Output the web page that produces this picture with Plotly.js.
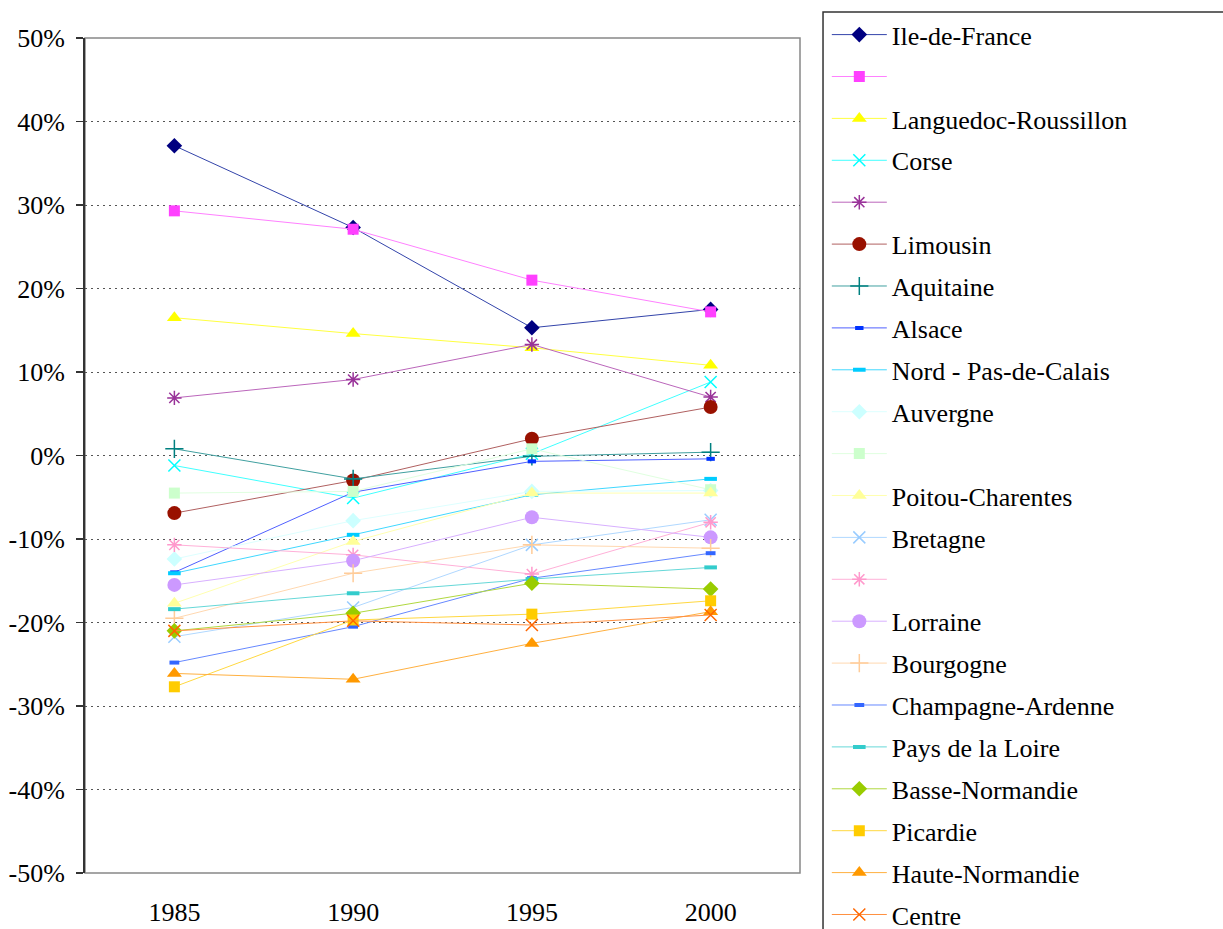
<!DOCTYPE html>
<html>
<head>
<meta charset="utf-8">
<script src="https://cdn.plot.ly/plotly-3.0.1.min.js"></script>
<style>
  html, body { margin: 0; padding: 0; background: #fff; }
  #chart { width: 1223px; height: 929px; }
</style>
</head>
<body>
<div id="chart"></div>
<script>
// years on the category axis
const years = ["1985", "1990", "1995", "2000"];

// series names, in legend order (some are blank in the original)
const regions = [
  "Ile-de-France", "", "Languedoc-Roussillon", "Corse", "", "Limousin",
  "Aquitaine", "Alsace", "Nord - Pas-de-Calais", "Auvergne", "",
  "Poitou-Charentes", "Bretagne", "", "Lorraine", "Bourgogne",
  "Champagne-Ardenne", "Pays de la Loire", "Basse-Normandie", "Picardie",
  "Haute-Normandie", "Centre"
];

// values in %, one array per series
const ileDeFrance    = [37.1, 27.3, 15.3, 17.5];
const serie2         = [29.3, 27.1, 21.0, 17.2];
const languedoc      = [16.5, 14.6, 12.9, 10.8];
const corse          = [-1.2, -5.1, 0.2, 8.8];
const serie5         = [6.9, 9.1, 13.3, 7.0];
const limousin       = [-6.9, -3.0, 2.0, 5.8];
const aquitaine      = [0.8, -2.8, -0.1, 0.4];
const alsace         = [-14.0, -4.4, -0.7, -0.4];
const nordPdc        = [-14.1, -9.5, -4.7, -2.8];
const auvergne       = [-12.4, -7.8, -4.3, -4.2];
const serie11        = [-4.5, -4.3, 0.8, -4.1];
const poitou         = [-17.7, -10.3, -4.5, -4.5];
const bretagne       = [-21.7, -18.2, -10.7, -7.7];
const serie14        = [-10.7, -11.9, -14.2, -8.0];
const lorraine       = [-15.5, -12.6, -7.4, -9.8];
const bourgogne      = [-19.5, -14.1, -10.7, -11.1];
const champagne      = [-24.8, -20.5, -14.7, -11.7];
const paysLoire      = [-18.4, -16.5, -14.8, -13.4];
const basseNormandie = [-21.0, -18.9, -15.3, -16.0];
const picardie       = [-27.7, -19.7, -19.0, -17.4];
const hauteNormandie = [-26.1, -26.8, -22.5, -18.7];
const centre         = [-21.0, -19.8, -20.3, -19.1];

// y tick labels
const yTickVals = [-50, -40, -30, -20, -10, 0, 10, 20, 30, 40, 50];
const yTickText = ["-50%", "-40%", "-30%", "-20%", "-10%", "0%", "10%", "20%", "30%", "40%", "50%"];

const values = [ileDeFrance, serie2, languedoc, corse, serie5, limousin, aquitaine,
  alsace, nordPdc, auvergne, serie11, poitou, bretagne, serie14, lorraine, bourgogne,
  champagne, paysLoire, basseNormandie, picardie, hauteNormandie, centre];

// excel-ish styles
const markerColors = ["#000080", "#ff40ff", "#ffff00", "#00ffff", "#993399", "#991100",
  "#008080", "#0033ff", "#00ccff", "#ccffff", "#ccffcc", "#ffff99", "#99ccff", "#ff99cc",
  "#cc99ff", "#ffcc99", "#3366ff", "#33cccc", "#99cc00", "#ffcc00", "#ff9900", "#ff6600"];
const lineColors = ["#3344aa", "#ff80ff", "#ffff40", "#40ffff", "#bb66bb", "#b06060",
  "#40a0a0", "#5060ff", "#40d8ff", "#ddffff", "#e0ffe0", "#ffffb0", "#b0d8ff", "#ffb0d8",
  "#d8b0ff", "#ffd8b0", "#6688ff", "#66d8d8", "#b0d840", "#ffd840", "#ffb040", "#ff9040"];
const symbols = ["diamond", "square", "triangle-up", "x-thin-open", "asterisk-open", "circle",
  "cross-thin-open", "line-ew-open", "line-ew-open", "diamond", "square", "triangle-up",
  "x-thin-open", "asterisk-open", "circle", "cross-thin-open", "line-ew-open", "line-ew-open",
  "diamond", "square", "triangle-up", "x-thin-open"];
const sizes = [12, 11, 13, 12, 12, 14, 13, 6, 9, 12, 11, 13, 12, 12, 14, 13, 7, 9, 12, 11, 13, 12];

const font = "Liberation Serif, Times New Roman, serif";

const traces = values.map(function(v, i){
  const sym = symbols[i];
  const open = sym.indexOf("open") >= 0;
  let lw = 0;
  if (open) lw = sym.indexOf("line-ew") === 0 ? 4 : 1.5;
  return {
    x: years,
    y: v,
    name: regions[i],
    legendgroup: "g" + i,
    type: "scatter",
    mode: "lines+markers",
    line: {color: lineColors[i], width: 1},
    marker: {
      symbol: sym,
      size: sizes[i],
      color: markerColors[i],
      line: {color: markerColors[i], width: lw}
    },
    hoverinfo: "skip"
  };
});

Plotly.newPlot("chart", traces, {
  width: 1223,
  height: 929,
  margin: {l: 85, r: 423, t: 38, b: 56, autoexpand: false},
  paper_bgcolor: "#fff",
  plot_bgcolor: "#fff",
  font: {family: font, size: 26, color: "#000"},
  showlegend: true,
  xaxis: {
    type: "category",
    range: [-0.5, 3.5],
    showline: false,
    showgrid: false,
    zeroline: false,
    ticks: "",
    ticklabelstandoff: 21,
    tickfont: {family: font, size: 26, color: "#000"}
  },
  xaxis2: {
    overlaying: "x",
    anchor: "free",
    position: 0.5,
    range: [-0.5, 3.5],
    tickvals: [-0.5, 0.5, 1.5, 2.5, 3.5],
    ticks: "outside",
    ticklen: 8,
    tickwidth: 1,
    tickcolor: "#000",
    showticklabels: false,
    showgrid: false,
    zeroline: false,
    showline: true,
    linecolor: "#000",
    linewidth: 1.5
  },
  yaxis: {
    range: [-50, 50],
    tickvals: yTickVals,
    ticktext: yTickText,
    showline: true,
    linecolor: "#333",
    linewidth: 2,
    ticks: "outside",
    ticklen: 7,
    tickwidth: 1.5,
    tickcolor: "#333",
    showgrid: true,
    gridcolor: "#555",
    griddash: "2px,4px",
    gridwidth: 1,
    zeroline: false,
    ticklabelstandoff: 6,
    tickfont: {family: font, size: 26, color: "#000"}
  },
  shapes: [
    {
      type: "rect", xref: "paper", yref: "paper", x0: 0, x1: 1, y0: 0, y1: 1,
      line: {color: "#888", width: 1.5}, layer: "below"
    },
    {
      // legend frame, runs off the right and bottom edges like the original
      type: "rect", xref: "paper", yref: "paper", x0: 1.0322, x1: 1.8, y0: -0.3, y1: 1.0311,
      line: {color: "#333", width: 1.5}, layer: "below"
    }
  ],
  legend: {
    x: 1.0375, y: 1.0321, xanchor: "left", yanchor: "top",
    bgcolor: "rgba(0,0,0,0)",
    borderwidth: 0,
    tracegroupgap: 5.1,
    itemwidth: 55,
    maxheight: 1400,
    font: {family: font, size: 26, color: "#000"}
  }
}, {staticPlot: true});
</script>
</body>
</html>
